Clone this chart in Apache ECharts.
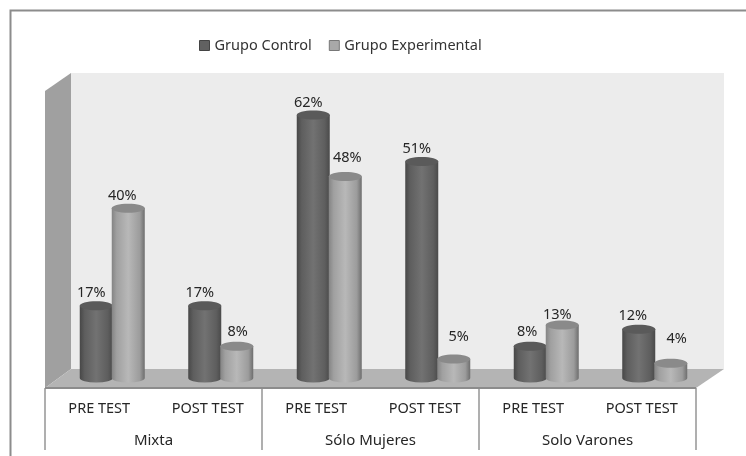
<!DOCTYPE html>
<html>
<head>
<meta charset="utf-8">
<style>
  html, body { margin: 0; padding: 0; background: #fff; overflow: hidden; }
  #chart { width: 746px; height: 456px; }
</style>
<script src="https://cdn.jsdelivr.net/npm/echarts@6/dist/echarts.min.js"></script>
</head>
<body>
<div id="chart"></div>
<script>
const tests = ["PRE TEST", "POST TEST", "PRE TEST", "POST TEST", "PRE TEST", "POST TEST"];
const groups = ["Mixta", "Sólo Mujeres", "Solo Varones"];
const control = [17, 17, 62, 51, 7.5, 11.5];
const experimental = [40, 7.5, 47.5, 4.5, 12.5, 3.5];

// the data labels sit a little off-centre in the original
const controlLabelShift = [[-5, 0], [-5, 0], [-5, 0], [-5, 0], [-3, -2], [-6, -1]];
const experimentalLabelShift = [[-6, 0], [1, -2], [2, -6], [5, -10], [-5, 2], [6, -12]];

const font = "Noto Sans";
const depthX = 13;
const depthY = 10;

// back wall, side wall and floor, worked out from the plot rectangle
const renderRoom = (params, api) => {
  const c = params.coordSys;
  const L = c.x, R = c.x + c.width, T = c.y, B = c.y + c.height;
  const dx = 26, dy = 19;
  return {
    type: "group",
    children: [
      { type: "rect", shape: { x: L + dx, y: T - dy + 1, width: c.width + 2, height: c.height - 1 }, style: { fill: "#ececec" } },
      { type: "polygon", shape: { points: [[L, T], [L + dx, T - dy + 1], [L + dx, B - dy], [L, B]] }, style: { fill: "#a0a0a0" } },
      { type: "polygon", shape: { points: [[L, B], [L + dx, B - dy], [R + dx + 2, B - dy], [R, B]] }, style: { fill: "#b4b4b4" } },
      { type: "line", shape: { x1: L, y1: B, x2: R, y2: B }, style: { stroke: "#8c8c8c", lineWidth: 2 } },
    ],
  };
};

const cylinder = (shift, stops, top, labelShift) => (params, api) => {
  const base = api.coord([api.value(0), 0]);
  const head = api.coord([api.value(0), api.value(1)]);
  const hw = 16.5, ry = 4.5;
  const cx = base[0] + shift + depthX;
  const y0 = base[1] - depthY;
  const y1 = head[1] - depthY;
  const fill = new echarts.graphic.LinearGradient(0, 0, 1, 0, stops);
  const nudge = labelShift[params.dataIndex];
  return {
    type: "group",
    children: [
      {
        type: "path",
        shape: {
          pathData: `M${cx - hw} ${y1}L${cx - hw} ${y0}A${hw} ${ry} 0 0 0 ${cx + hw} ${y0}L${cx + hw} ${y1}Z`,
        },
        style: { fill },
      },
      { type: "ellipse", shape: { cx, cy: y1, rx: hw, ry }, style: { fill: top } },
      {
        type: "text",
        style: {
          x: cx + nudge[0],
          y: y1 - 5 + nudge[1],
          text: Math.round(api.value(1)) + "%",
          align: "center",
          verticalAlign: "bottom",
          font: `14.5px "${font}"`,
          fill: "#262626",
        },
      },
    ],
  };
};

const darkStops = [
  { offset: 0, color: "#474747" },
  { offset: 0.15, color: "#5e5e5e" },
  { offset: 0.5, color: "#727272" },
  { offset: 0.85, color: "#5e5e5e" },
  { offset: 1, color: "#4a4a4a" },
];
const lightStops = [
  { offset: 0, color: "#848484" },
  { offset: 0.15, color: "#a0a0a0" },
  { offset: 0.5, color: "#b8b8b8" },
  { offset: 0.85, color: "#9c9c9c" },
  { offset: 1, color: "#6e6e6e" },
];

const option = {
  animation: false,
  backgroundColor: "#fff",
  textStyle: { fontFamily: font },
  graphic: [
    {
      // only the top and left edges of the frame are inside the crop
      type: "rect",
      silent: true,
      shape: { x: 10.5, y: 10.5, width: 800, height: 500 },
      style: { fill: "none", stroke: "#8c8c8c", lineWidth: 2 },
    },
  ],
  legend: {
    left: 194,
    top: 33,
    itemWidth: 10,
    itemHeight: 10,
    itemGap: 17,
    textStyle: { fontFamily: font, fontSize: 14.5, color: "#333" },
    data: [
      { name: "Grupo Control", icon: "rect", itemStyle: { color: "#616161", borderColor: "#444", borderWidth: 1 } },
      { name: "Grupo Experimental", icon: "rect", itemStyle: { color: "#a8a8a8", borderColor: "#777", borderWidth: 1 } },
    ],
  },
  grid: { left: 45, right: 50, top: 91, height: 297 },
  xAxis: [
    {
      type: "category",
      data: tests,
      axisLine: { show: false },
      axisTick: { show: false },
      axisLabel: { color: "#262626", fontSize: 14.5, margin: 13, interval: 0, fontFamily: font },
    },
    {
      type: "category",
      data: groups,
      position: "bottom",
      axisLine: { show: false },
      axisTick: { show: true, length: 62, alignWithLabel: false, lineStyle: { color: "#959595", width: 1.5 } },
      axisLabel: { color: "#262626", fontSize: 15, margin: 45, interval: 0, fontFamily: font },
    },
  ],
  yAxis: { type: "value", min: 0, max: 70, show: false },
  series: [
    {
      type: "custom",
      silent: true,
      renderItem: renderRoom,
      data: [[0, 0]],
      z: 1,
    },
    {
      name: "Grupo Control",
      type: "custom",
      renderItem: cylinder(-16, darkStops, "#5a5a5a", controlLabelShift),
      data: control.map((v, i) => [i, v]),
      itemStyle: { color: "#616161" },
      z: 2,
    },
    {
      name: "Grupo Experimental",
      type: "custom",
      renderItem: cylinder(16, lightStops, "#8a8a8a", experimentalLabelShift),
      data: experimental.map((v, i) => [i, v]),
      itemStyle: { color: "#a8a8a8" },
      z: 3,
    },
  ],
};

const myChart = echarts.init(document.getElementById("chart"));
myChart.setOption(option);
</script>
</body>
</html>
